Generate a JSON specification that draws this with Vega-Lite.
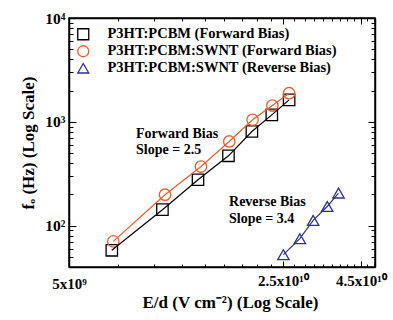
{
  "$schema": "https://vega.github.io/schema/vega-lite/v6.json",
  "width": 306,
  "height": 249,
  "autosize": {"type": "none"},
  "padding": {"left": 69, "top": 18, "right": 18, "bottom": 53},
  "background": "white",
  "config": {
    "view": {"stroke": "black", "strokeWidth": 1.5},
    "font": "Liberation Serif",
    "axis": {"grid": false, "domainColor": "black", "domainWidth": 1.5, "tickColor": "black", "tickWidth": 1, "labelColor": "black", "titleColor": "black", "labelFont": "Liberation Serif", "titleFont": "Liberation Serif", "labelFontWeight": "bold", "titleFontWeight": "bold"}
  },
  "datasets": {
    "pts": [
      {"series": "P3HT:PCBM (Forward Bias)", "Ed": 6.9e9, "fo": 57.9},
      {"series": "P3HT:PCBM (Forward Bias)", "Ed": 1.01e10, "fo": 142.6},
      {"series": "P3HT:PCBM (Forward Bias)", "Ed": 1.32e10, "fo": 277},
      {"series": "P3HT:PCBM (Forward Bias)", "Ed": 1.66e10, "fo": 471},
      {"series": "P3HT:PCBM (Forward Bias)", "Ed": 1.98e10, "fo": 807},
      {"series": "P3HT:PCBM (Forward Bias)", "Ed": 2.30e10, "fo": 1168},
      {"series": "P3HT:PCBM (Forward Bias)", "Ed": 2.62e10, "fo": 1628},
      {"series": "P3HT:PCBM:SWNT (Forward Bias)", "Ed": 6.98e9, "fo": 70.6},
      {"series": "P3HT:PCBM:SWNT (Forward Bias)", "Ed": 1.03e10, "fo": 198.7},
      {"series": "P3HT:PCBM:SWNT (Forward Bias)", "Ed": 1.35e10, "fo": 371},
      {"series": "P3HT:PCBM:SWNT (Forward Bias)", "Ed": 1.67e10, "fo": 647},
      {"series": "P3HT:PCBM:SWNT (Forward Bias)", "Ed": 1.99e10, "fo": 1046},
      {"series": "P3HT:PCBM:SWNT (Forward Bias)", "Ed": 2.31e10, "fo": 1435},
      {"series": "P3HT:PCBM:SWNT (Forward Bias)", "Ed": 2.62e10, "fo": 1888},
      {"series": "P3HT:PCBM:SWNT (Reverse Bias)", "Ed": 2.51e10, "fo": 52.6},
      {"series": "P3HT:PCBM:SWNT (Reverse Bias)", "Ed": 2.84e10, "fo": 75},
      {"series": "P3HT:PCBM:SWNT (Reverse Bias)", "Ed": 3.14e10, "fo": 112.5},
      {"series": "P3HT:PCBM:SWNT (Reverse Bias)", "Ed": 3.49e10, "fo": 153},
      {"series": "P3HT:PCBM:SWNT (Reverse Bias)", "Ed": 3.80e10, "fo": 206}
    ],
    "notes": [
      {"Ed": 8.28e9, "fo": 767, "label": "Forward Bias"},
      {"Ed": 8.28e9, "fo": 530, "label": "Slope = 2.5"},
      {"Ed": 1.667e10, "fo": 167.5, "label": "Reverse Bias"},
      {"Ed": 1.667e10, "fo": 115.9, "label": "Slope = 3.4"}
    ]
  },
  "layer": [
    {
      "data": {"name": "pts"},
      "mark": {"type": "point", "filled": false, "strokeWidth": 1.3, "size": 130, "opacity": 1},
      "encoding": {
        "x": {"field": "Ed", "type": "quantitative", "scale": {"type": "log", "domain": [5e9, 5e10], "nice": false},
          "axis": {"orient": "bottom", "values": [5e9, 7.2222e9, 9.4444e9, 1.16667e10, 1.38889e10, 1.61111e10, 1.83333e10, 2.05556e10, 2.27778e10, 2.5e10, 2.72222e10, 2.94444e10, 3.16667e10, 3.38889e10, 3.61111e10, 3.83333e10, 4.05556e10, 4.27778e10, 4.5e10, 4.72222e10, 4.94444e10],
            "labelExpr": "datum.value==5e9?'5x10⁹':datum.value==2.5e10?'2.5x10¹⁰':datum.value==4.5e10?'4.5x10¹⁰':''",
            "tickSize": {"condition": {"test": "datum.value==2.5e10||datum.value==4.5e10", "value": -6}, "value": -3},
            "labelPadding": 12, "labelFontSize": 15, "labelFlush": false, "labelOverlap": false,
            "title": "E/d (V cm⁻²) (Log Scale)", "titleFontSize": 17, "titlePadding": 3, "titleX": 161}},
        "y": {"field": "fo", "type": "quantitative", "scale": {"type": "log", "domain": [40, 10000], "nice": false},
          "axis": {"orient": "left", "values": [50, 60, 70, 80, 90, 100, 200, 300, 400, 500, 600, 700, 800, 900, 1000, 2000, 3000, 4000, 5000, 6000, 7000, 8000, 9000, 10000],
            "labelExpr": "datum.value==100?'10²':datum.value==1000?'10³':datum.value==10000?'10⁴':''",
            "tickSize": {"condition": {"test": "datum.value==100||datum.value==1000||datum.value==10000", "value": -7}, "value": -4},
            "labelPadding": 11, "labelFontSize": 15.5, "labelFlush": false, "labelOverlap": false,
            "title": "fₒ (Hz) (Log Scale)", "titleFontSize": 17, "titlePadding": 7}},
        "color": {"field": "series", "type": "nominal",
          "scale": {"domain": ["P3HT:PCBM (Forward Bias)", "P3HT:PCBM:SWNT (Forward Bias)", "P3HT:PCBM:SWNT (Reverse Bias)"], "range": ["black", "#f15a29", "#2e3192"]},
          "legend": {"orient": "none", "legendX": 7, "legendY": 9, "title": null, "padding": 0, "labelFont": "Liberation Serif", "labelFontWeight": "bold", "labelFontSize": 14.5, "labelColor": "black", "symbolStrokeWidth": 1.3, "symbolSize": 121, "rowPadding": 0, "labelOffset": 17, "labelLimit": 300}},
        "shape": {"field": "series", "type": "nominal",
          "scale": {"domain": ["P3HT:PCBM (Forward Bias)", "P3HT:PCBM:SWNT (Forward Bias)", "P3HT:PCBM:SWNT (Reverse Bias)"], "range": ["square", "circle", "triangle-up"]}}
      }
    },
    {
      "data": {"name": "pts"},
      "mark": {"type": "line", "strokeWidth": 1.2},
      "encoding": {
        "x": {"field": "Ed", "type": "quantitative", "axis": null},
        "y": {"field": "fo", "type": "quantitative", "axis": null},
        "color": {"field": "series", "type": "nominal"}
      }
    },
    {
      "data": {"name": "notes"},
      "mark": {"type": "text", "align": "left", "baseline": "middle", "font": "Liberation Serif", "fontWeight": "bold", "fontSize": 14, "color": "black"},
      "encoding": {
        "x": {"field": "Ed", "type": "quantitative",
          "axis": {"orient": "top", "values": [7.2222e9, 9.4444e9, 1.16667e10, 1.38889e10, 1.61111e10, 1.83333e10, 2.05556e10, 2.27778e10, 2.5e10, 2.72222e10, 2.94444e10, 3.16667e10, 3.38889e10, 3.61111e10, 3.83333e10, 4.05556e10, 4.27778e10, 4.5e10, 4.72222e10, 4.94444e10],
            "labels": false, "title": null,
            "tickSize": {"condition": {"test": "datum.value==2.5e10||datum.value==4.5e10", "value": -6}, "value": -3}}},
        "y": {"field": "fo", "type": "quantitative",
          "axis": {"orient": "right", "values": [50, 60, 70, 80, 90, 100, 200, 300, 400, 500, 600, 700, 800, 900, 1000, 2000, 3000, 4000, 5000, 6000, 7000, 8000, 9000, 10000],
            "labels": false, "title": null,
            "tickSize": {"condition": {"test": "datum.value==100||datum.value==1000||datum.value==10000", "value": -7}, "value": -4}}},
        "text": {"field": "label"}
      }
    }
  ],
  "resolve": {"axis": {"x": "independent", "y": "independent"}}
}
